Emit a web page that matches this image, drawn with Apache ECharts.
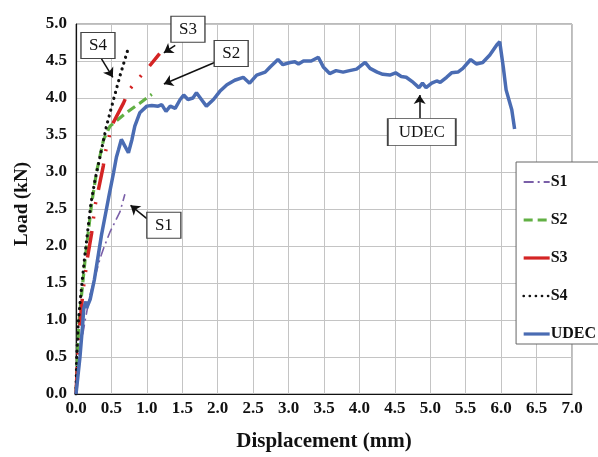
<!DOCTYPE html>
<html>
<head>
<meta charset="utf-8">
<script src="https://cdn.jsdelivr.net/npm/echarts@6/dist/echarts.min.js"></script>
<style>
  html, body { margin: 0; padding: 0; background: #fff; }
  #chart { width: 598px; height: 457px; }
</style>
</head>
<body>
<div id="chart"></div>
<script>
// data: displacement (mm) / load (kN)
var s1Disp = [0, 0.03, 0.08, 0.13, 0.2, 0.34, 0.39, 0.48, 0.62, 0.69]
var s1Load = [0, 0.4, 0.72, 1.0, 1.35, 1.83, 1.97, 2.19, 2.46, 2.70]

var s2Disp = [0, 0.02, 0.04, 0.07, 0.13, 0.22, 0.29, 0.39, 0.48, 0.71, 0.9, 1.07]
var s2Load = [0, 0.5, 0.94, 1.26, 1.83, 2.57, 3.0, 3.44, 3.62, 3.8, 3.93, 4.05]

var s3Disp = [0, 0.04, 0.1, 0.16, 0.22, 0.27, 0.31, 0.385, 0.41, 0.46, 0.5, 0.67, 0.75, 0.88, 1.01, 1.18]
var s3Load = [0, 0.8, 1.4, 1.83, 2.17, 2.55, 2.73, 3.08, 3.25, 3.44, 3.62, 3.93, 4.11, 4.26, 4.4, 4.6]

var s4Disp = [0, 0.01, 0.03, 0.06, 0.12, 0.21, 0.27, 0.36, 0.43, 0.53, 0.63, 0.74]
var s4Load = [0, 0.5, 0.94, 1.26, 1.83, 2.57, 2.9, 3.3, 3.62, 3.98, 4.33, 4.68]

var udecDisp = [0, 0.056, 0.094, 0.11, 0.14, 0.15, 0.2, 0.26, 0.31, 0.36, 0.43, 0.47, 0.53, 0.57, 0.6, 0.64,
  0.69, 0.74, 0.79, 0.83, 0.9, 1.0, 1.07, 1.16, 1.21, 1.27, 1.33, 1.4, 1.47, 1.52, 1.58, 1.65, 1.7, 1.77,
  1.84, 1.94, 2.03, 2.13, 2.24, 2.36, 2.45, 2.55, 2.67, 2.74, 2.85, 2.92, 3.02, 3.09, 3.14, 3.21, 3.32,
  3.42, 3.49, 3.58, 3.67, 3.77, 3.86, 3.96, 4.08, 4.15, 4.25, 4.33, 4.43, 4.51, 4.59, 4.66, 4.76, 4.84,
  4.89, 4.94, 5.02, 5.09, 5.14, 5.23, 5.3, 5.39, 5.46, 5.57, 5.65, 5.74, 5.84, 5.94, 5.98, 6.03, 6.07,
  6.15, 6.19]
var udecLoad = [0, 0.5, 0.94, 1.16, 1.25, 1.16, 1.28, 1.55, 1.85, 2.15, 2.5, 2.7, 2.99, 3.2, 3.3, 3.44,
  3.35, 3.26, 3.44, 3.62, 3.8, 3.89, 3.9, 3.89, 3.91, 3.82, 3.89, 3.86, 3.98, 4.04, 3.98, 4.0, 4.07, 3.98,
  3.89, 3.98, 4.09, 4.18, 4.24, 4.28, 4.2, 4.31, 4.35, 4.42, 4.52, 4.45, 4.48, 4.49, 4.46, 4.5, 4.5,
  4.55, 4.42, 4.33, 4.37, 4.35, 4.37, 4.39, 4.48, 4.4, 4.35, 4.32, 4.31, 4.34, 4.29, 4.28, 4.21, 4.14,
  4.2, 4.14, 4.2, 4.23, 4.21, 4.28, 4.34, 4.35, 4.4, 4.52, 4.46, 4.48, 4.58, 4.72, 4.76, 4.42, 4.11,
  3.84, 3.58]

// callout boxes: label, position, arrow from -> to
var noteNames = ['S4', 'S3', 'S2', 'S1', 'UDEC']
var notePos = [[0.31, 4.71], [1.58, 4.93], [2.19, 4.60], [1.24, 2.28], [4.88, 3.54]]
var arrowFrom = [[0.36, 4.53], [1.40, 4.71], [1.98, 4.49], [1.0, 2.37], [4.85, 3.73]]
var arrowTo = [[0.52, 4.28], [1.24, 4.61], [1.24, 4.19], [0.77, 2.55], [4.85, 4.04]]

function pairs(xs, ys) {
  return xs.map(function (x, i) { return [x, ys[i]] })
}

var serif = '"Liberation Serif", "DejaVu Serif", serif'

var chart = echarts.init(document.getElementById('chart'))
chart.setOption({
  animation: false,
  grid: {
    left: 76, right: 26, top: 24, bottom: 60,
    show: true, borderColor: '#777', borderWidth: 1
  },
  legend: {
    orient: 'vertical',
    right: -6, top: 162,
    padding: [12, 8, 2, 6],
    itemGap: 22,
    itemWidth: 26, itemHeight: 12,
    borderColor: '#666', borderWidth: 1,
    backgroundColor: '#fff',
    itemStyle: { opacity: 0 },
    textStyle: { fontFamily: serif, fontSize: 16, fontWeight: 'bold', color: '#111', padding: [0, 0, 0, -4] },
    data: [
      { name: 'S1' },
      { name: 'S2', lineStyle: { width: 3 } },
      { name: 'S3', lineStyle: { width: 3.2, type: 'solid' } },
      { name: 'S4', lineStyle: { width: 2.6 } },
      { name: 'UDEC', lineStyle: { width: 3.2 } }
    ]
  },
  xAxis: {
    type: 'value', min: 0, max: 7, interval: 0.5,
    name: 'Displacement (mm)', nameLocation: 'middle', nameGap: 37,
    nameTextStyle: { fontFamily: serif, fontSize: 21, fontWeight: 'bold', color: '#111' },
    axisLine: { lineStyle: { color: '#111', width: 1.2 } },
    axisTick: { show: false },
    axisLabel: {
      fontFamily: serif, fontSize: 17, fontWeight: 'bold', color: '#111', margin: 6,
      formatter: function (v) { return v.toFixed(1) }
    },
    splitLine: { lineStyle: { color: '#c4c4c4', width: 1 } }
  },
  yAxis: {
    type: 'value', min: 0, max: 5, interval: 0.5,
    name: 'Load (kN)', nameLocation: 'middle', nameGap: 44,
    nameTextStyle: { fontFamily: serif, fontSize: 19, fontWeight: 'bold', color: '#111', padding: [0, 0, 0, 10] },
    axisLine: { show: true, lineStyle: { color: '#111', width: 1.2 } },
    axisTick: { show: false },
    axisLabel: {
      fontFamily: serif, fontSize: 17, fontWeight: 'bold', color: '#111', margin: 9,
      formatter: function (v) { return v.toFixed(1) }
    },
    splitLine: { lineStyle: { color: '#c4c4c4', width: 1 } }
  },
  series: [
    {
      name: 'S1', type: 'line', symbol: 'none',
      data: pairs(s1Disp, s1Load),
      lineStyle: { color: '#7a5fa8', width: 1.6, type: [10, 4, 2, 4] },
      itemStyle: { color: '#7a5fa8' }
    },
    {
      name: 'S2', type: 'line', symbol: 'none',
      data: pairs(s2Disp, s2Load),
      lineStyle: { color: '#62b044', width: 3.2, type: [9, 5] },
      itemStyle: { color: '#62b044' }
    },
    {
      name: 'S3', type: 'line', symbol: 'none',
      data: pairs(s3Disp, s3Load),
      lineStyle: { color: '#d42424', width: 3.5, type: [27, 12.5, 2, 12.5, 2, 12.5] },
      itemStyle: { color: '#d42424' }
    },
    {
      name: 'S4', type: 'line', symbol: 'none',
      data: pairs(s4Disp, s4Load),
      lineStyle: { color: '#111', width: 3.2, type: [0.1, 6], cap: 'round' },
      itemStyle: { color: '#111' }
    },
    {
      name: 'UDEC', type: 'line', symbol: 'none',
      data: pairs(udecDisp, udecLoad),
      lineStyle: { color: '#4a6cb3', width: 3.5 },
      itemStyle: { color: '#4a6cb3' },
      z: 3,
      markLine: {
        silent: true,
        symbol: ['none', 'arrow'],
        symbolSize: 9,
        label: { show: false },
        lineStyle: { color: '#111', width: 1.5, type: 'solid' },
        data: arrowFrom.map(function (p, i) {
          return [{ coord: p }, { coord: arrowTo[i] }]
        })
      },
      markPoint: {
        silent: true,
        symbol: 'rect',
        itemStyle: { color: '#fff', borderColor: '#444', borderWidth: 1.2 },
        label: {
          show: true, position: 'inside',
          fontFamily: serif, fontSize: 17, color: '#111',
          formatter: function (p) { return p.name }
        },
        data: noteNames.map(function (n, i) {
          return { name: n, coord: notePos[i], symbolSize: n === 'UDEC' ? [68, 27] : [34, 26] }
        })
      }
    }
  ]
})
</script>
</body>
</html>
